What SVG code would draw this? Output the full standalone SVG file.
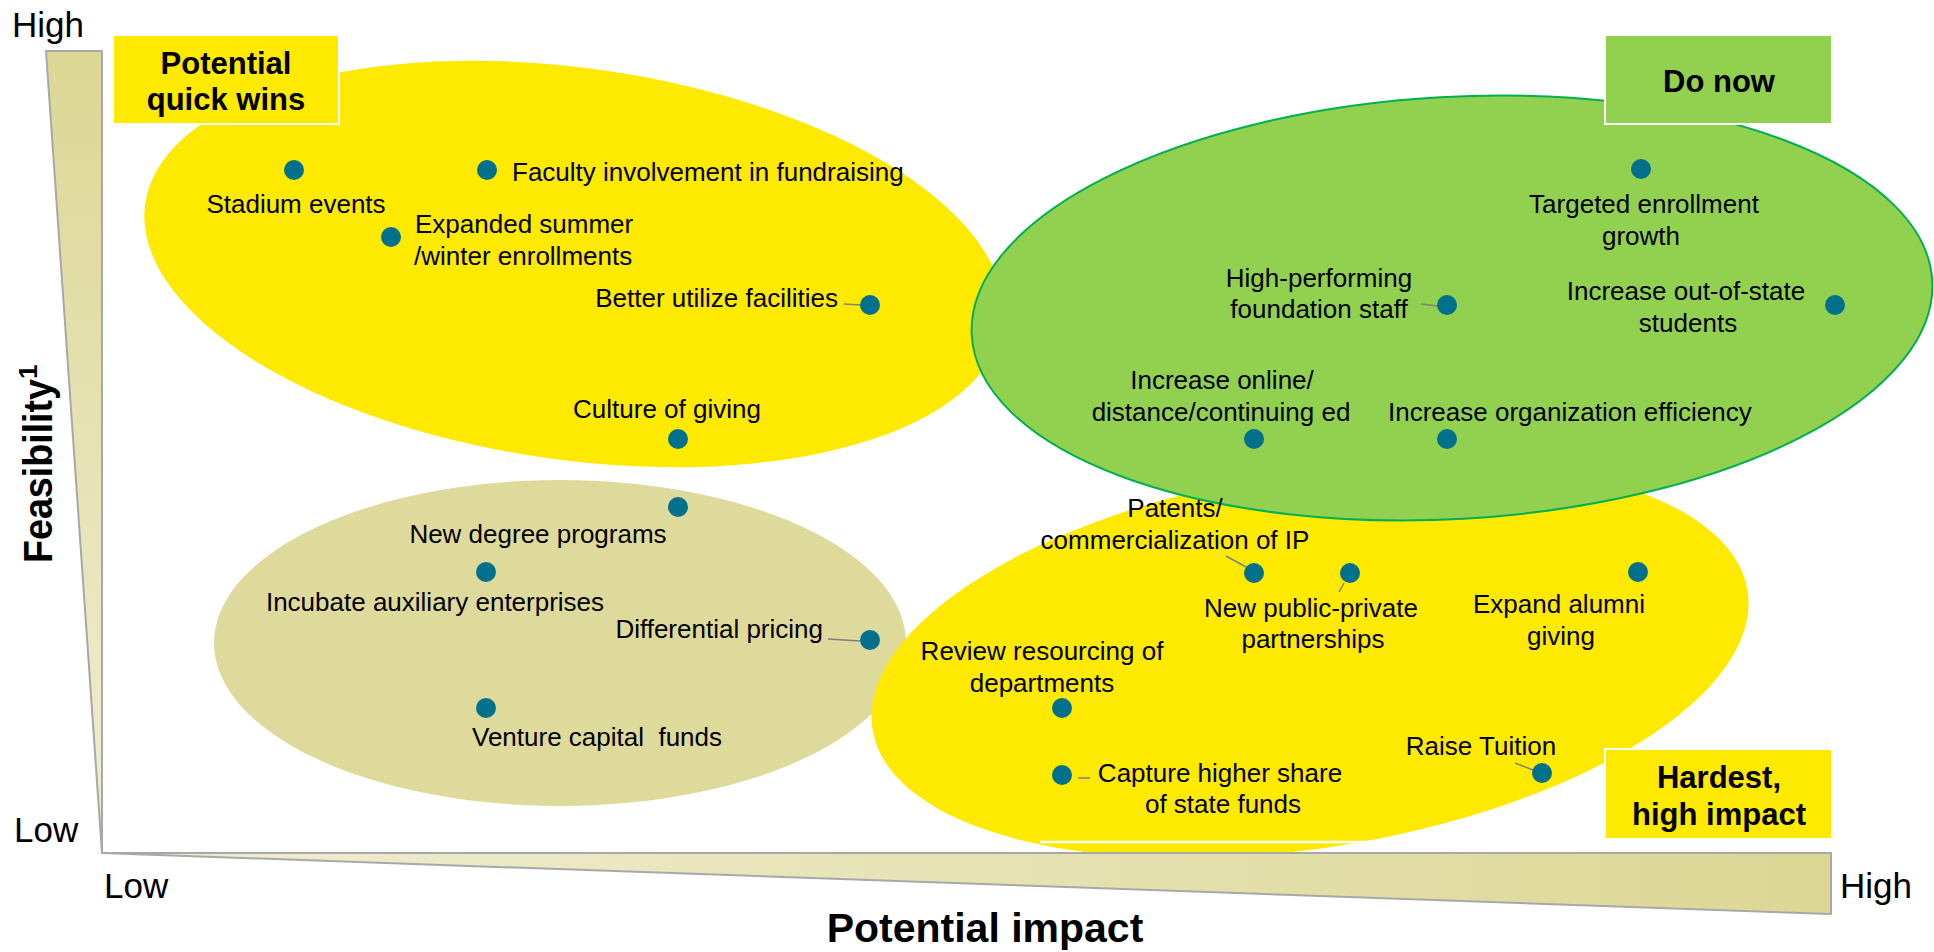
<svg xmlns="http://www.w3.org/2000/svg" width="1934" height="952" viewBox="0 0 1934 952">
<style>
text { font-family: "Liberation Sans", Arial, sans-serif; fill: #000; }
.lbl { font-size: 26px; }
.c { text-anchor: middle; }
.e { text-anchor: end; }
.dot { fill: #00708C; }
.lead { stroke: #808080; stroke-width: 1.5; fill: none; }
.boxt { font-size: 31px; font-weight: bold; text-anchor: middle; }
.ax { font-size: 35px; }
.title { font-weight: bold; }
.yel { fill: #FDEA00; }
.box { stroke: #FFFFFF; stroke-width: 2; }
</style>
<defs>
<linearGradient id="gv" x1="0" y1="0" x2="0" y2="1">
<stop offset="0" stop-color="#DCD794"/>
<stop offset="1" stop-color="#F0EED4"/>
</linearGradient>
<linearGradient id="gh" x1="0" y1="0" x2="1" y2="0">
<stop offset="0" stop-color="#F0EED4"/>
<stop offset="1" stop-color="#DCD794"/>
</linearGradient>
</defs>
<rect width="1934" height="952" fill="#FFFFFF"/>

<g id="cluster-quick-wins"><ellipse class="yel" cx="574" cy="264" rx="433" ry="196" transform="rotate(8 574 264)"/></g>
<g id="cluster-low"><ellipse cx="560" cy="643" rx="346" ry="163" fill="#DEDA9B"/></g>
<g id="cluster-hardest"><ellipse class="yel" cx="1310" cy="660" rx="443" ry="188" transform="rotate(-9 1310 660)"/>
<line x1="1040" y1="842" x2="1420" y2="842" stroke="#FFFFFF" stroke-width="2.5"/></g>
<g id="cluster-do-now"><ellipse cx="1452" cy="308" rx="481" ry="211" transform="rotate(-3.25 1452 308)" fill="#92D050" stroke="#00B050" stroke-width="2"/></g>

<g id="axis-feasibility">
<polygon points="46,51 102,51 102,853" fill="url(#gv)" stroke="#A8A8A8" stroke-width="2" stroke-linejoin="round"/>
<text class="ax" x="12" y="37">High</text>
<text class="ax" x="14" y="842">Low</text>
<text class="title" font-size="41" transform="translate(52,563) rotate(-90)" textLength="184" lengthAdjust="spacingAndGlyphs">Feasibility</text>
<text class="title" font-size="26" transform="translate(37,379) rotate(-90)">1</text>
</g>
<g id="axis-impact">
<polygon points="102,853 1831,853 1831,914" fill="url(#gh)" stroke="#A8A8A8" stroke-width="2" stroke-linejoin="round"/>
<text class="ax" x="104" y="898">Low</text>
<text class="ax" x="1840" y="898">High</text>
<text class="title c" font-size="41" x="985" y="942">Potential impact</text>
</g>

<g id="box-quick-wins"><rect class="yel box" x="113" y="35" width="226" height="89"/>
<text class="boxt" x="226" y="74">Potential</text><text class="boxt" x="226" y="110">quick wins</text></g>
<g id="box-do-now"><rect class="box" x="1605" y="35" width="227" height="89" fill="#92D050"/>
<text class="boxt" x="1719" y="92">Do now</text></g>
<g id="box-hardest"><rect class="yel box" x="1605" y="749" width="227" height="90"/>
<text class="boxt" x="1719" y="788">Hardest,</text><text class="boxt" x="1719" y="825">high impact</text></g>

<g id="connectors">
<line class="lead" x1="844" y1="304" x2="861" y2="305"/>
<line class="lead" x1="1421" y1="304" x2="1438" y2="306"/>
<line class="lead" x1="828" y1="639" x2="860" y2="641"/>
<line class="lead" x1="1226" y1="556" x2="1246" y2="567"/>
<line class="lead" x1="1344" y1="583" x2="1339" y2="592"/>
<line class="lead" x1="1078" y1="778" x2="1090" y2="778"/>
<line class="lead" x1="1515" y1="763" x2="1533" y2="770"/>
</g>

<g id="stadium-events"><circle class="dot" cx="294" cy="170" r="10"/><text class="lbl c" x="296" y="213">Stadium events</text></g>
<g id="faculty-involvement"><circle class="dot" cx="487" cy="170" r="10"/><text class="lbl" x="512" y="181">Faculty involvement in fundraising</text></g>
<g id="expanded-summer"><circle class="dot" cx="391" cy="237" r="10"/><text class="lbl" x="415" y="233">Expanded summer</text><text class="lbl" x="414" y="265">/winter enrollments</text></g>
<g id="better-utilize"><circle class="dot" cx="870" cy="305" r="10"/><text class="lbl e" x="838" y="307">Better utilize facilities</text></g>
<g id="culture-of-giving"><circle class="dot" cx="678" cy="439" r="10"/><text class="lbl c" x="667" y="418">Culture of giving</text></g>

<g id="targeted-enrollment"><circle class="dot" cx="1641" cy="169" r="10"/><text class="lbl c" x="1644" y="213">Targeted enrollment</text><text class="lbl c" x="1641" y="245">growth</text></g>
<g id="high-performing"><circle class="dot" cx="1447" cy="305" r="10"/><text class="lbl c" x="1319" y="287">High-performing</text><text class="lbl c" x="1319" y="318">foundation staff</text></g>
<g id="out-of-state"><circle class="dot" cx="1835" cy="305" r="10"/><text class="lbl c" x="1686" y="300">Increase out-of-state</text><text class="lbl c" x="1688" y="332">students</text></g>
<g id="online-ed"><circle class="dot" cx="1254" cy="439" r="10"/><text class="lbl c" x="1222" y="389">Increase online/</text><text class="lbl c" x="1221" y="421">distance/continuing ed</text></g>
<g id="org-efficiency"><circle class="dot" cx="1447" cy="439" r="10"/><text class="lbl" x="1388" y="421">Increase organization efficiency</text></g>

<g id="new-degree"><circle class="dot" cx="678" cy="507" r="10"/><text class="lbl c" x="538" y="543">New degree programs</text></g>
<g id="incubate"><circle class="dot" cx="486" cy="572" r="10"/><text class="lbl c" x="435" y="611">Incubate auxiliary enterprises</text></g>
<g id="differential-pricing"><circle class="dot" cx="870" cy="640" r="10"/><text class="lbl e" x="823" y="638">Differential pricing</text></g>
<g id="venture-capital"><circle class="dot" cx="486" cy="708" r="10"/><text class="lbl c" x="597" y="746" xml:space="preserve">Venture capital  funds</text></g>

<g id="patents"><circle class="dot" cx="1254" cy="573" r="10"/><text class="lbl c" x="1175" y="517">Patents/</text><text class="lbl c" x="1175" y="549">commercialization of IP</text></g>
<g id="public-private"><circle class="dot" cx="1350" cy="573" r="10"/><text class="lbl c" x="1311" y="617">New public-private</text><text class="lbl c" x="1313" y="648">partnerships</text></g>
<g id="alumni-giving"><circle class="dot" cx="1638" cy="572" r="10"/><text class="lbl c" x="1559" y="613">Expand alumni</text><text class="lbl c" x="1561" y="645">giving</text></g>
<g id="review-resourcing"><circle class="dot" cx="1062" cy="708" r="10"/><text class="lbl c" x="1042" y="660">Review resourcing of</text><text class="lbl c" x="1042" y="692">departments</text></g>
<g id="capture-state-funds"><circle class="dot" cx="1062" cy="775" r="10"/><text class="lbl c" x="1220" y="782">Capture higher share</text><text class="lbl c" x="1223" y="813">of state funds</text></g>
<g id="raise-tuition"><circle class="dot" cx="1542" cy="773" r="10"/><text class="lbl c" x="1481" y="755">Raise Tuition</text></g>
</svg>
